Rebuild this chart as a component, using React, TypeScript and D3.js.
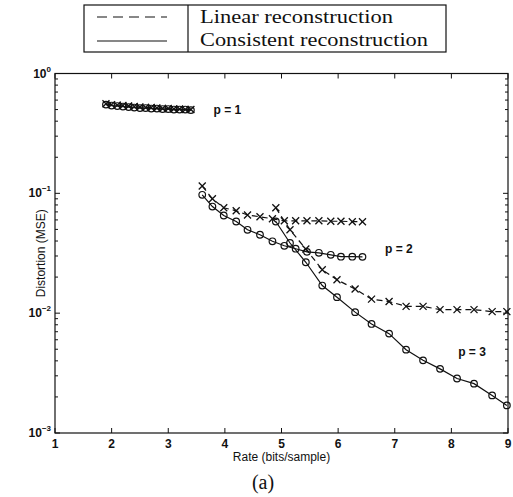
import React, { useRef, useEffect } from 'react';
import * as d3 from 'd3';

// rate (bits/sample) and distortion (MSE)
const p1Rate = [1.9, 2.0, 2.1, 2.2, 2.3, 2.4, 2.5, 2.6, 2.7, 2.8, 2.9, 3.0, 3.1, 3.2, 3.3, 3.4];
const p1Linear = [0.56, 0.55, 0.545, 0.54, 0.535, 0.53, 0.525, 0.52, 0.52, 0.515, 0.51, 0.51, 0.505, 0.505, 0.5, 0.5];
const p1Consistent = [0.55, 0.54, 0.535, 0.53, 0.525, 0.52, 0.515, 0.515, 0.51, 0.51, 0.505, 0.505, 0.5, 0.5, 0.5, 0.495];

const p2Rate = [3.6, 3.78, 3.98, 4.2, 4.4, 4.62, 4.84, 5.05, 5.25, 5.45, 5.66, 5.87, 6.05, 6.25, 6.43];
const p2Linear = [0.115, 0.09, 0.0757, 0.0715, 0.066, 0.0637, 0.0613, 0.059, 0.059, 0.059, 0.059, 0.0585, 0.0585, 0.058, 0.058];
const p2Consistent = [0.0972, 0.0776, 0.0653, 0.0582, 0.0496, 0.0451, 0.0398, 0.0365, 0.0345, 0.0325, 0.0319, 0.0307, 0.0296, 0.0296, 0.0295];

const p3Rate = [4.9, 5.15, 5.43, 5.72, 5.98, 6.3, 6.59, 6.9, 7.2, 7.5, 7.8, 8.1, 8.4, 8.72, 8.98];
const p3Linear = [0.0757, 0.0496, 0.0343, 0.023, 0.019, 0.0159, 0.0131, 0.0125, 0.0114, 0.0114, 0.0107, 0.0107, 0.0107, 0.0103, 0.0103];
const p3Consistent = [0.0582, 0.0385, 0.0266, 0.017, 0.0136, 0.0102, 0.00813, 0.00675, 0.00496, 0.00404, 0.00343, 0.00285, 0.00258, 0.00206, 0.0017];

const xTicks = [1, 2, 3, 4, 5, 6, 7, 8, 9];
const yDecades = [0, -1, -2, -3];
const legendLabels = ['Linear reconstruction', 'Consistent reconstruction'];
const curveLabels = [
  { text: 'p = 1', x: 3.8, y: 0.5 },
  { text: 'p = 2', x: 6.83, y: 0.034 },
  { text: 'p = 3', x: 8.12, y: 0.0047 },
];

const App = () => {
  const svgRef = useRef<SVGSVGElement>(null);

  useEffect(() => {
    const svg = d3.select(svgRef.current);
    svg.selectAll('*').remove();

    const W = 513, H = 497;
    const margin = { top: 73.5, right: 5, bottom: 64, left: 55 };
    const x0 = margin.left, x1 = W - margin.right;
    const y0 = H - margin.bottom, y1 = margin.top;

    const x = d3.scaleLinear().domain([1, 9]).range([x0, x1]);
    const y = d3.scaleLog().domain([1e-3, 1]).range([y0, y1]);

    const sans = 'Liberation Sans, Arial, sans-serif';
    const serif = 'Liberation Serif, Times New Roman, serif';

    svg.append('rect').attr('width', W).attr('height', H).attr('fill', 'white');

    // frame
    svg.append('rect')
      .attr('x', x0).attr('y', y1)
      .attr('width', x1 - x0).attr('height', y0 - y1)
      .attr('fill', 'none').attr('stroke', '#111').attr('stroke-width', 1.2);

    // x ticks, inward on bottom and top
    const gx = svg.append('g');
    xTicks.forEach(t => {
      gx.append('line').attr('x1', x(t)).attr('x2', x(t)).attr('y1', y0).attr('y2', y0 - 5).attr('stroke', '#111');
      gx.append('line').attr('x1', x(t)).attr('x2', x(t)).attr('y1', y1).attr('y2', y1 + 5).attr('stroke', '#111');
      gx.append('text')
        .attr('x', x(t)).attr('y', y0 + 15)
        .attr('text-anchor', 'middle')
        .attr('font-family', sans).attr('font-size', 12).attr('font-weight', 'bold')
        .attr('fill', '#111')
        .text(t);
    });

    // y ticks (log), major + minor, both sides
    const gy = svg.append('g');
    yDecades.forEach(d => {
      const v = Math.pow(10, d);
      gy.append('line').attr('x1', x0).attr('x2', x0 + 5).attr('y1', y(v)).attr('y2', y(v)).attr('stroke', '#111');
      gy.append('line').attr('x1', x1).attr('x2', x1 - 5).attr('y1', y(v)).attr('y2', y(v)).attr('stroke', '#111');
      const lab = gy.append('text')
        .attr('x', x0 - 4).attr('y', y(v) + 4)
        .attr('text-anchor', 'end')
        .attr('font-family', sans).attr('font-weight', 'bold').attr('fill', '#111');
      lab.append('tspan').attr('font-size', 12).text('10');
      lab.append('tspan').attr('font-size', 8).attr('dy', -6).text(String(d).replace('-', '\u2212'));
      if (d > -3) {
        for (let m = 2; m <= 9; m++) {
          const mv = m * Math.pow(10, d - 1);
          gy.append('line').attr('x1', x0).attr('x2', x0 + 3).attr('y1', y(mv)).attr('y2', y(mv)).attr('stroke', '#111');
          gy.append('line').attr('x1', x1).attr('x2', x1 - 3).attr('y1', y(mv)).attr('y2', y(mv)).attr('stroke', '#111');
        }
      }
    });

    // axis titles
    svg.append('text')
      .attr('x', (x0 + x1) / 2).attr('y', y0 + 28)
      .attr('text-anchor', 'middle')
      .attr('font-family', sans).attr('font-size', 12).attr('fill', '#111')
      .text('Rate (bits/sample)');
    svg.append('text')
      .attr('transform', `translate(45,${(y0 + y1) / 2}) rotate(-90)`)
      .attr('text-anchor', 'middle')
      .attr('font-family', sans).attr('font-size', 12).attr('fill', '#111')
      .text('Distortion (MSE)');
    svg.append('text')
      .attr('x', 263).attr('y', 489)
      .attr('text-anchor', 'middle')
      .attr('font-family', serif).attr('font-size', 20).attr('fill', '#111')
      .text('(a)');

    const line = d3.line<[number, number]>()
      .x(d => x(d[0]))
      .y(d => y(d[1]));

    const series = [
      { rate: p1Rate, vals: p1Linear, dashed: true },
      { rate: p1Rate, vals: p1Consistent, dashed: false },
      { rate: p2Rate, vals: p2Linear, dashed: true },
      { rate: p2Rate, vals: p2Consistent, dashed: false },
      { rate: p3Rate, vals: p3Linear, dashed: true },
      { rate: p3Rate, vals: p3Consistent, dashed: false },
    ];

    const gData = svg.append('g');
    series.forEach(s => {
      const pts: [number, number][] = s.rate.map((r, i) => [r, s.vals[i]]);
      gData.append('path')
        .datum(pts)
        .attr('fill', 'none')
        .attr('stroke', '#111')
        .attr('stroke-width', 1.2)
        .attr('stroke-dasharray', s.dashed ? '6,4' : null)
        .attr('d', line);
      pts.forEach(p => {
        const cx = x(p[0]), cy = y(p[1]);
        if (s.dashed) {
          const r = 3.5;
          gData.append('path')
            .attr('d', `M${cx - r},${cy - r}L${cx + r},${cy + r}M${cx - r},${cy + r}L${cx + r},${cy - r}`)
            .attr('stroke', '#111').attr('stroke-width', 1.3);
        } else {
          gData.append('circle')
            .attr('cx', cx).attr('cy', cy).attr('r', 3.3)
            .attr('fill', 'none').attr('stroke', '#111').attr('stroke-width', 1.2);
        }
      });
    });

    curveLabels.forEach(c => {
      svg.append('text')
        .attr('x', x(c.x)).attr('y', y(c.y) + 4)
        .attr('font-family', sans).attr('font-size', 12).attr('font-weight', 'bold').attr('fill', '#111')
        .text(c.text);
    });

    // legend box above the plot
    const lg = svg.append('g');
    lg.append('rect').attr('x', 84).attr('y', 5).attr('width', 362).attr('height', 47)
      .attr('fill', 'white').attr('stroke', '#111').attr('stroke-width', 1.2);
    lg.append('line').attr('x1', 188).attr('x2', 188).attr('y1', 5).attr('y2', 52).attr('stroke', '#111').attr('stroke-width', 1.2);
    lg.append('line').attr('x1', 97).attr('x2', 167).attr('y1', 17).attr('y2', 17)
      .attr('stroke', '#111').attr('stroke-width', 1.2).attr('stroke-dasharray', '10,6');
    lg.append('line').attr('x1', 97).attr('x2', 167).attr('y1', 41).attr('y2', 41)
      .attr('stroke', '#111').attr('stroke-width', 1.2);
    const widths = [193, 228];
    legendLabels.forEach((t, i) => {
      lg.append('text')
        .attr('x', 200).attr('y', 23 + i * 23)
        .attr('font-family', serif).attr('font-size', 18).attr('fill', '#111')
        .attr('textLength', widths[i]).attr('lengthAdjust', 'spacingAndGlyphs')
        .text(t);
    });
  }, []);

  return (
    <svg ref={svgRef} width={513} height={497}
      style={{ position: 'absolute', left: 0, top: 0, display: 'block' }} />
  );
};

export default App;
